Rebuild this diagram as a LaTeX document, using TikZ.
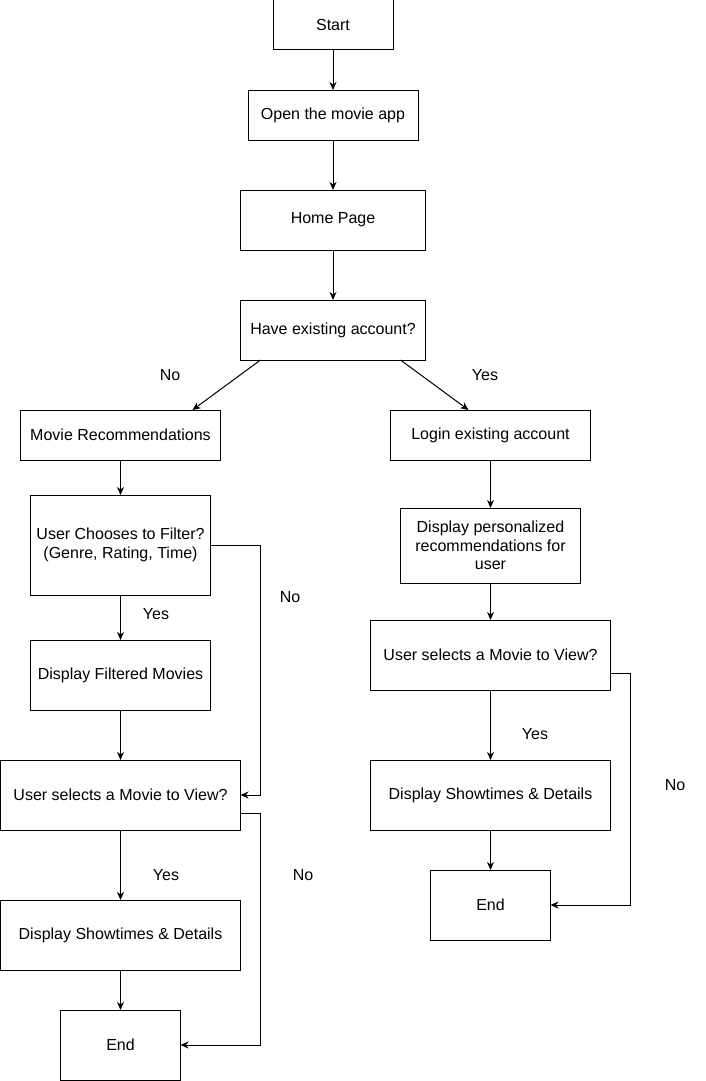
\documentclass[tikz,border=0pt]{standalone}
\usepackage{fontspec}
\setmainfont{Liberation Sans}
\usetikzlibrary{positioning}
\usetikzlibrary{arrows.meta}

\begin{document}
\begin{tikzpicture}[x=1pt, y=-1pt, node distance=50pt,
    flowbox/.style={draw, rectangle, inner sep=0pt, outer sep=0pt, align=center, line width=1pt},
    flow/.style={-{Stealth[length=8pt, width=7pt, inset=2.5pt]}, line width=1pt},
    font=\fontsize{16pt}{18.4pt}\selectfont]

    \useasboundingbox (0,0) rectangle (706,1081);

    % main column
    \node(S1)[flowbox, minimum width=120pt, minimum height=50pt] at (333,25) {Start};
    \node(O1)[flowbox, minimum width=170pt, minimum height=50pt, below=40pt of S1]{Open the movie app};
    \node(H1)[flowbox, minimum width=185pt, minimum height=60pt, below=50pt of O1]{Home Page};
    \node(A1)[flowbox, minimum width=185pt, minimum height=60pt, below=50pt of H1]{Have existing account?};

    % left branch
    \node(M1)[flowbox, minimum width=200pt, minimum height=50pt, below left=50pt and 20pt of A1]{Movie Recommendations};
    \node(F1)[flowbox, minimum width=180pt, minimum height=100pt, below=35pt of M1]{User Chooses to Filter?\\(Genre, Rating, Time)};
    \node(D1)[flowbox, minimum width=180pt, minimum height=70pt, below=45pt of F1]{Display Filtered Movies};
    \node(U1)[flowbox, minimum width=240pt, minimum height=70pt, below=50pt of D1]{User selects a Movie to View?};
    \node(T1)[flowbox, minimum width=240pt, minimum height=70pt, below=70pt of U1]{Display Showtimes \& Details};
    \node(E1)[flowbox, minimum width=120pt, minimum height=70pt, below=40pt of T1]{End};

    % right branch
    \node(L1)[flowbox, minimum width=200pt, minimum height=50pt, right=170pt of M1]{Login existing account};
    \node(P1)[flowbox, minimum width=180pt, minimum height=75pt, below=48pt of L1]{Display personalized\\recommendations for\\user};
    \node(U2)[flowbox, minimum width=240pt, minimum height=70pt, below=37pt of P1]{User selects a Movie to View?};
    \node(T2)[flowbox, minimum width=240pt, minimum height=70pt, below=70pt of U2]{Display Showtimes \& Details};
    \node(E2)[flowbox, minimum width=120pt, minimum height=70pt, below=40pt of T2]{End};

    % labels
    \node(N1) at (170,375) {No};
    \node(Y1) at (485,375) {Yes};
    \node(Y2) at (156,614) {Yes};
    \node(N2) at (290,597) {No};
    \node(Y3) at (166,875) {Yes};
    \node(N3) at (303,875) {No};
    \node(Y4) at (535,734) {Yes};
    \node(N4) at (675,785) {No};

    \draw[flow] (S1) -- (O1);
    \draw[flow] (O1) -- (H1);
    \draw[flow] (H1) -- (A1);
    \draw[flow] ([xshift=-72.5pt]A1.south) -- ([xshift=72pt]M1.north);
    \draw[flow] ([xshift=67.5pt]A1.south) -- ([xshift=-22pt]L1.north);

    \draw[flow] (M1) -- (F1);
    \draw[flow] (F1) -- (D1);
    \draw[flow] (D1) -- (U1);
    \draw[flow] (U1) -- (T1);
    \draw[flow] (T1) -- (E1);
    \draw[flow] (F1.east) -- ++(50pt,0) |- (U1.east);
    \draw[flow] ([yshift=-18pt]U1.east) -- ++(20pt,0) |- (E1.east);

    \draw[flow] (L1) -- (P1);
    \draw[flow] (P1) -- (U2);
    \draw[flow] (U2) -- (T2);
    \draw[flow] (T2) -- (E2);
    \draw[flow] ([yshift=-18pt]U2.east) -- ++(20pt,0) |- (E2.east);

\end{tikzpicture}
\end{document}
